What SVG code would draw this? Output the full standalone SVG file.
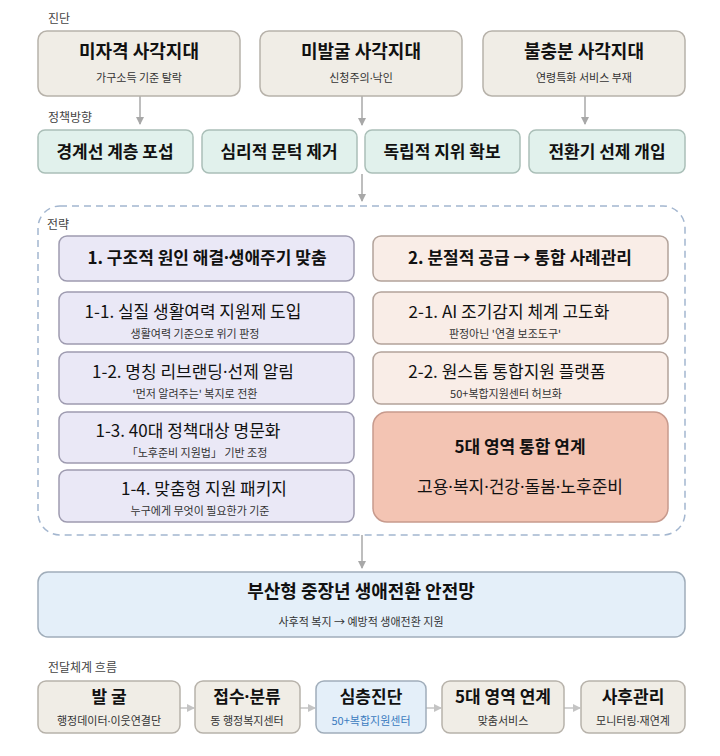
<svg xmlns="http://www.w3.org/2000/svg" width="720" height="756" viewBox="0 0 720 756">
<defs>
<marker id="ah" markerWidth="8" markerHeight="8" refX="7" refY="4" orient="auto" markerUnits="userSpaceOnUse">
<path d="M0,0 L8,4 L0,8 Z" fill="#a8a8a8"/>
</marker>
<marker id="ahs" markerWidth="8" markerHeight="8" refX="7" refY="4" orient="auto" markerUnits="userSpaceOnUse">
<path d="M0,0 L8,4 L0,8 Z" fill="#c4c4c4"/>
</marker>
<style>
text{font-family:"Noto Sans CJK KR","Noto Sans",sans-serif;}
.d{font-family:"Noto Sans","DejaVu Sans",sans-serif;}
.sec{font-size:12px;fill:#444;}
.t{font-size:17px;font-weight:700;fill:#111;text-anchor:middle;}
.tt{font-size:18px;}
.s{font-size:11px;fill:#333;text-anchor:middle;}
.st{font-size:17px;fill:#111;text-anchor:middle;}
.beige{fill:#f0ede6;stroke:#b7b2aa;stroke-width:1.5;}
.mint{fill:#e1f1ec;stroke:#aabfb8;stroke-width:1.5;}
.lav{fill:#eae8f6;stroke:#9e9bb0;stroke-width:1.5;}
.peach{fill:#f9ede7;stroke:#b3a39b;stroke-width:1.5;}
.salmon{fill:#f3c4b3;stroke:#c79a8d;stroke-width:1.5;}
.blue{fill:#e4eff9;stroke:#a0adba;stroke-width:1.5;}
.conn{stroke:#a8a8a8;stroke-width:1.5;fill:none;}
.conn2{stroke:#c4c4c4;stroke-width:1.5;fill:none;}
</style>
</defs>
<rect width="720" height="756" fill="#ffffff"/>

<text class="sec" x="48" y="23">진단</text>
<text class="sec" x="48" y="122">정책방향</text>
<text class="sec" x="48" y="672">전달체계 흐름</text>

<g id="container">
<rect x="38" y="206" width="647" height="329" rx="22" fill="none" stroke="#a3b6cf" stroke-width="1.5" stroke-dasharray="7,5"/>
<text class="sec" x="47" y="229">전략</text>
</g>

<g id="connectors">
<line class="conn" x1="140" y1="96" x2="140" y2="124" marker-end="url(#ah)"/>
<line class="conn" x1="362" y1="96" x2="362" y2="125" marker-end="url(#ah)"/>
<line class="conn" x1="585" y1="96" x2="585" y2="124" marker-end="url(#ah)"/>
<line class="conn" x1="362" y1="174" x2="362" y2="201" marker-end="url(#ah)"/>
<line class="conn" x1="362" y1="535" x2="362" y2="568" marker-end="url(#ah)"/>
<line class="conn2" x1="180" y1="708" x2="194" y2="708" marker-end="url(#ahs)"/>
<line class="conn2" x1="300" y1="708" x2="315" y2="708" marker-end="url(#ahs)"/>
<line class="conn2" x1="426" y1="708" x2="441" y2="708" marker-end="url(#ahs)"/>
<line class="conn2" x1="564" y1="708" x2="580" y2="708" marker-end="url(#ahs)"/>
</g>

<g id="diag1"><rect class="beige" x="38" y="31" width="202" height="65" rx="9"/>
<text class="t tt" x="139" y="58">미자격 사각지대</text><text class="s" x="139" y="82">가구소득 기준 탈락</text></g>
<g id="diag2"><rect class="beige" x="260" y="31" width="202" height="65" rx="9"/>
<text class="t tt" x="361" y="58">미발굴 사각지대</text><text class="s" x="361" y="82">신청주의<tspan class="d">·</tspan>낙인</text></g>
<g id="diag3"><rect class="beige" x="483" y="31" width="202" height="65" rx="9"/>
<text class="t tt" x="584" y="58">불충분 사각지대</text><text class="s" x="584" y="82">연령특화 서비스 부재</text></g>

<g id="pol1"><rect class="mint" x="38" y="130" width="155" height="43" rx="7"/><text class="t" x="115" y="158">경계선 계층 포섭</text></g>
<g id="pol2"><rect class="mint" x="202" y="130" width="155" height="43" rx="7"/><text class="t" x="279" y="158">심리적 문턱 제거</text></g>
<g id="pol3"><rect class="mint" x="365" y="130" width="155" height="43" rx="7"/><text class="t" x="442" y="158">독립적 지위 확보</text></g>
<g id="pol4"><rect class="mint" x="529" y="130" width="156" height="43" rx="7"/><text class="t" x="607" y="158">전환기 선제 개입</text></g>

<g id="s1"><rect class="lav" x="59" y="236" width="295" height="45" rx="8"/><text class="t" x="207" y="264">1. 구조적 원인 해결<tspan class="d">·</tspan>생애주기 맞춤</text></g>
<g id="s1-1"><rect class="lav" x="59" y="292" width="295" height="52" rx="8"/>
<text class="st" x="193" y="318">1-1. 실질 생활여력 지원제 도입</text><text class="s" x="195" y="338">생활여력 기준으로 위기 판정</text></g>
<g id="s1-2"><rect class="lav" x="59" y="352" width="295" height="52" rx="8"/>
<text class="st" x="193" y="378">1-2. 명칭 리브랜딩<tspan class="d">·</tspan>선제 알림</text><text class="s" x="195" y="398">'먼저 알려주는' 복지로 전환</text></g>
<g id="s1-3"><rect class="lav" x="59" y="412" width="295" height="51" rx="8"/>
<text class="st" x="188" y="437">1-3. 40대 정책대상 명문화</text><text class="s" x="197" y="457">「노후준비 지원법」 기반 조정</text></g>
<g id="s1-4"><rect class="lav" x="59" y="470" width="295" height="52" rx="8"/>
<text class="st" x="204" y="495">1-4. 맞춤형 지원 패키지</text><text class="s" x="200" y="515">누구에게 무엇이 필요한가 기준</text></g>

<g id="s2"><rect class="peach" x="373" y="236" width="295" height="45" rx="8"/><text class="t" x="520" y="264">2. 분절적 공급 → 통합 사례관리</text></g>
<g id="s2-1"><rect class="peach" x="373" y="292" width="295" height="52" rx="8"/>
<text class="st" x="509" y="318">2-1. AI 조기감지 체계 고도화</text><text class="s" x="505" y="338">판정아닌 '연결 보조도구'</text></g>
<g id="s2-2"><rect class="peach" x="373" y="352" width="295" height="52" rx="8"/>
<text class="st" x="507" y="378">2-2. 원스톱 통합지원 플랫폼</text><text class="s" x="506" y="398">50+복합지원센터 허브화</text></g>
<g id="s2-3"><rect class="salmon" x="373" y="412" width="295" height="110" rx="14"/>
<text class="t" x="520" y="453">5대 영역 통합 연계</text><text class="st" x="520" y="493">고용<tspan class="d">·</tspan>복지<tspan class="d">·</tspan>건강<tspan class="d">·</tspan>돌봄<tspan class="d">·</tspan>노후준비</text></g>

<g id="result"><rect class="blue" x="38" y="572" width="647" height="65" rx="10"/>
<text class="t tt" x="361" y="598">부산형 중장년 생애전환 안전망</text><text class="s" x="361" y="626">사후적 복지 → 예방적 생애전환 지원</text></g>

<g id="f1"><rect class="beige" x="38" y="681" width="142" height="52" rx="8"/><text class="t" x="109" y="703">발 굴</text><text class="s" x="109" y="725">행정데이터<tspan class="d">·</tspan>이웃연결단</text></g>
<g id="f2"><rect class="beige" x="195" y="681" width="105" height="52" rx="8"/><text class="t" x="247" y="703">접수<tspan class="d">·</tspan>분류</text><text class="s" x="247" y="725">동 행정복지센터</text></g>
<g id="f3"><rect class="blue" x="316" y="681" width="110" height="52" rx="8"/><text class="t" x="371" y="703">심층진단</text><text class="s" x="371" y="725" style="fill:#3b7bbf">50+복합지원센터</text></g>
<g id="f4"><rect class="beige" x="442" y="681" width="122" height="52" rx="8"/><text class="t" x="503" y="703">5대 영역 연계</text><text class="s" x="503" y="725">맞춤서비스</text></g>
<g id="f5"><rect class="beige" x="581" y="681" width="104" height="52" rx="8"/><text class="t" x="633" y="703">사후관리</text><text class="s" x="633" y="725">모니터링<tspan class="d">·</tspan>재연계</text></g>
</svg>
